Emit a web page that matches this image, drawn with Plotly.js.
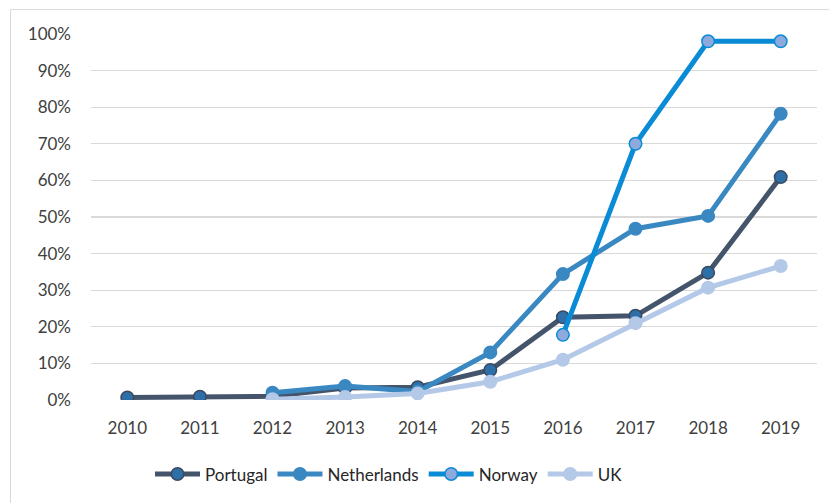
<!DOCTYPE html>
<html>
<head>
<meta charset="utf-8">
<script src="https://cdn.plot.ly/plotly-3.0.1.min.js"></script>
<style>html,body{margin:0;padding:0;background:#fff;}#chart{width:829px;height:503px;}</style>
</head>
<body>
<div id="chart"></div>
<script>
const years = ['2010','2011','2012','2013','2014','2015','2016','2017','2018','2019'];
const portugal    = [0.007, 0.009, 0.010, 0.033, 0.035, 0.082, 0.226, 0.230, 0.348, 0.609];
const netherlands = [null, null, 0.020, 0.038, 0.023, 0.130, 0.344, 0.468, 0.503, 0.782];
const norway      = [null, null, null, null, null, null, 0.178, 0.700, 0.980, 0.980];
const uk          = [null, null, 0.002, 0.008, 0.018, 0.050, 0.110, 0.210, 0.307, 0.366];

const seriesNames = ['Portugal', 'Netherlands', 'Norway', 'UK'];

function tr(name, y, lineColor, markerFill, markerLine) {
  return {
    type: 'scatter', mode: 'lines+markers', name: name,
    x: years, y: y, connectgaps: false,
    line: {color: lineColor, width: 5},
    marker: {size: 12.5, color: markerFill, line: {color: markerLine, width: 1.5}}
  };
}

const data = [
  tr(seriesNames[0], portugal, '#44546A', '#2E6FA7', '#3A4A60'),
  tr(seriesNames[1], netherlands, '#3A88C2', '#3A88C2', '#3A88C2'),
  tr(seriesNames[2], norway, '#0A8BD6', '#8EAADC', '#0A8BD6'),
  tr(seriesNames[3], uk, '#B4C8E8', '#B4C8E8', '#B4C8E8')
];

const L = 91, R = 12, T = 34, B = 101.5;
const W = 829, H = 503;
const pw = W - L - R, ph = H - T - B;
const px = v => (v - L) / pw;
const py = v => (H - B - v) / ph;

const layout = {
  width: W, height: H,
  margin: {l: L, r: R, t: T, b: B, pad: 0},
  paper_bgcolor: '#ffffff', plot_bgcolor: '#ffffff',
  font: {family: 'Lato, "Open Sans", sans-serif', size: 17, color: '#404040'},
  showlegend: true,
  legend: {orientation: 'h', x: px(150), xanchor: 'left', y: py(475), yanchor: 'middle',
           font: {size: 17, color: '#262626'}, itemwidth: 45, traceorder: 'normal'},
  xaxis: {type: 'category', range: [-0.5, 9.5], showgrid: false, zeroline: false,
          showline: false, ticks: '', tickfont: {size: 17, color: '#404040'},
          ticklabelstandoff: 16, fixedrange: true},
  yaxis: {range: [0, 1.0], dtick: 0.1, tickformat: '.0%', showgrid: true,
          gridcolor: '#D9D9D9', gridwidth: 1.3, zeroline: false, showline: false,
          ticks: '', tickfont: {size: 17, color: '#404040'},
          ticklabelstandoff: 19, fixedrange: true},
  shapes: [{type: 'rect', xref: 'paper', yref: 'paper',
            x0: px(10.5), x1: px(835), y0: py(510), y1: py(9.5),
            line: {color: '#D9D9D9', width: 1}, fillcolor: 'rgba(0,0,0,0)', layer: 'below'}]
};

Plotly.newPlot('chart', data, layout, {displayModeBar: false, staticPlot: true});
</script>
</body>
</html>
